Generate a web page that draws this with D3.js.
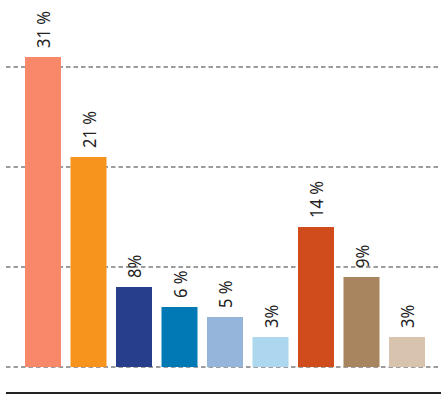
<!DOCTYPE html>
<html><head><meta charset="utf-8">
<script src="https://cdn.jsdelivr.net/npm/d3@7"></script>
<style>html,body{margin:0;padding:0;background:#fff}</style>
</head><body>
<script>
const categories = ["A","B","C","D","E","F","G","H","I"];
const values = [31, 21, 8, 6, 5, 3, 14, 9, 3];
const labels = ["31 %","21 %","8%","6 %","5 %","3%","14 %","9%","3%"];
const colors = ["#F7886A","#F7941E","#263E8C","#0179B5","#95B6DA","#ACD7EE","#D04C1C","#A8845F","#D8C4AE"];
const gridTicks = [0, 10, 20, 30];

const W = 441, H = 394;
const svg = d3.select("body").append("svg").attr("width", W).attr("height", H);

const x = d3.scaleBand().domain(categories).range([25, 425]).paddingInner(9.5/45.5).paddingOuter(0);
const y = d3.scaleLinear().domain([0, 30]).range([367, 67]);

svg.append("g").selectAll("line").data(gridTicks).join("line")
  .attr("x1", 6).attr("x2", W)
  .attr("y1", d => y(d)).attr("y2", d => y(d))
  .attr("stroke", "#3a3a3a").attr("stroke-width", 1).attr("stroke-dasharray", "4.5,3");

svg.append("g").selectAll("rect").data(values).join("rect")
  .attr("x", (d, i) => x(categories[i]))
  .attr("width", x.bandwidth())
  .attr("y", d => y(d))
  .attr("height", d => y(0) - y(d))
  .attr("fill", (d, i) => colors[i]);

svg.append("g").selectAll("text").data(values).join("text")
  .attr("transform", (d, i) => `translate(${x(categories[i]) + x.bandwidth()/2 + 7},${y(d) - 9}) rotate(-90) scale(0.87,1)`)
  .attr("font-family", "'Noto Sans', sans-serif")
  .attr("font-size", 19)
  .attr("fill", "#222")
  .text((d, i) => labels[i]);

svg.append("line").attr("x1", 6).attr("x2", W).attr("y1", 393).attr("y2", 393)
  .attr("stroke", "#222").attr("stroke-width", 2);
</script>
</body></html>
